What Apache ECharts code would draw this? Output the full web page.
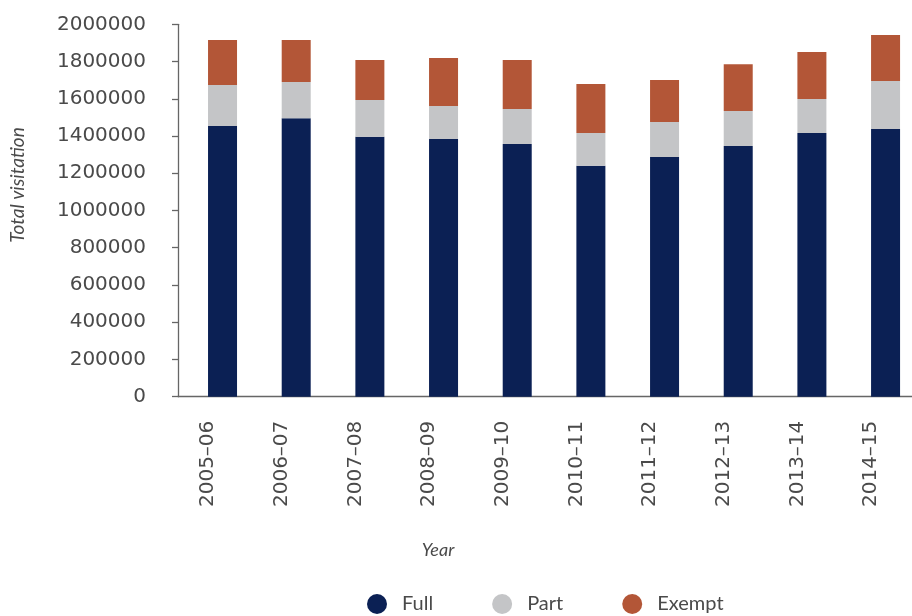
<!DOCTYPE html>
<html>
<head>
<meta charset="utf-8">
<script src="https://cdn.jsdelivr.net/npm/echarts@6/dist/echarts.min.js"></script>
<style>
  html, body { margin: 0; padding: 0; background: #ffffff; }
  #chart { width: 912px; height: 616px; }
</style>
</head>
<body>
<div id="chart"></div>
<script>
// Visitation by financial year, split by ticket type
const years = ['2005–06', '2006–07', '2007–08', '2008–09', '2009–10',
               '2010–11', '2011–12', '2012–13', '2013–14', '2014–15'];
const fullVisits   = [1454000, 1495000, 1396000, 1384000, 1357000, 1241000, 1287000, 1346000, 1416000, 1438000];
const partVisits   = [220000, 195000, 197000, 177000, 188000, 175000, 188000, 188000, 183000, 258000];
const exemptVisits = [242000, 226000, 215000, 258000, 263000, 263000, 226000, 252000, 252000, 247000];

const yMin = 0;
const yMax = 2000000;
const yStep = 200000;

const colors = { full: '#0b2054', part: '#c4c5c7', exempt: '#b35637' };
const axisGrey = '#666666';
const textGrey = '#4a4a4a';
const digitFont = 'DejaVu Sans';
const wordFont = 'Lato';

const chart = echarts.init(document.getElementById('chart'), null, { renderer: 'canvas' });

const plotTop = 24.3;
const plotHeight = 372.4;

chart.setOption({
  animation: false,
  backgroundColor: '#ffffff',
  grid: [
    // bars
    { left: 185.7, top: plotTop, width: 736.7, height: plotHeight, outerBoundsMode: 'none' },
    // axis frame
    { left: 178, top: plotTop, right: 0, height: plotHeight, outerBoundsMode: 'none' }
  ],
  legend: {
    left: 367,
    top: 594,
    padding: 0,
    icon: 'circle',
    itemWidth: 20,
    itemHeight: 20,
    itemGap: 59,
    textStyle: { fontFamily: wordFont, fontSize: 20, color: textGrey, padding: [0, 0, 0, 10] },
    data: ['Full', 'Part', 'Exempt']
  },
  xAxis: [
    {
      type: 'category',
      gridIndex: 0,
      data: years,
      axisLine: { show: false },
      axisTick: { show: false },
      axisLabel: {
        interval: 0,
        rotate: 90,
        margin: 24,
        fontFamily: digitFont,
        fontSize: 20,
        lineHeight: 29,
        color: textGrey,
        // a trailing blank line sets the label just left of its bar
        formatter: (v) => v + '\n '
      }
    },
    {
      type: 'value',
      gridIndex: 1,
      min: 0,
      max: 1,
      axisLine: { show: true, lineStyle: { color: axisGrey, width: 1.3 } },
      axisTick: { show: false },
      axisLabel: { show: false },
      splitLine: { show: false },
      name: 'Year',
      nameLocation: 'middle',
      nameGap: 144,
      nameTextStyle: {
        fontFamily: wordFont,
        fontStyle: 'italic',
        fontSize: 18,
        color: textGrey,
        padding: [0, 214, 0, 0]
      }
    }
  ],
  yAxis: [
    {
      type: 'value',
      gridIndex: 0,
      min: yMin,
      max: yMax,
      interval: yStep,
      show: false
    },
    {
      type: 'value',
      gridIndex: 1,
      min: yMin,
      max: yMax,
      interval: yStep,
      axisLine: { show: true, lineStyle: { color: axisGrey, width: 1.3 } },
      axisTick: { show: true, length: 6, lineStyle: { color: axisGrey, width: 1.3 } },
      splitLine: { show: false },
      axisLabel: {
        margin: 32,
        fontFamily: digitFont,
        fontSize: 20,
        color: textGrey,
        formatter: (v) => String(v)
      },
      name: 'Total visitation',
      nameLocation: 'middle',
      nameGap: 151,
      nameTextStyle: {
        fontFamily: wordFont,
        fontStyle: 'italic',
        fontSize: 19,
        color: textGrey,
        padding: [0, 0, 0, 51]
      }
    }
  ],
  series: [
    {
      name: 'Full', type: 'bar', stack: 'visits', xAxisIndex: 0, yAxisIndex: 0,
      barWidth: 29, itemStyle: { color: colors.full }, data: fullVisits
    },
    {
      name: 'Part', type: 'bar', stack: 'visits', xAxisIndex: 0, yAxisIndex: 0,
      barWidth: 29, itemStyle: { color: colors.part }, data: partVisits
    },
    {
      name: 'Exempt', type: 'bar', stack: 'visits', xAxisIndex: 0, yAxisIndex: 0,
      barWidth: 29, itemStyle: { color: colors.exempt }, data: exemptVisits
    }
  ]
});
</script>
</body>
</html>
